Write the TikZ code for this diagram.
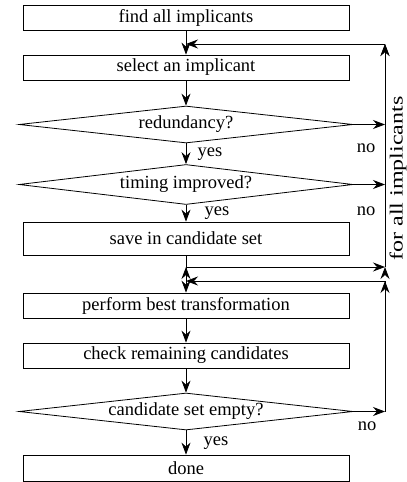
\documentclass[tikz,border=0pt]{standalone}
\usepackage{fontspec}
\setmainfont{Liberation Serif}
\usetikzlibrary{shapes.geometric,arrows.meta}

\begin{document}
\begin{tikzpicture}[x=1pt,y=-1pt,
    boxnode/.style={rectangle, draw=black, line width=0.8pt, minimum width=326pt, minimum height=25pt, inner sep=0pt, font=\fontsize{18.5}{22}\selectfont},
    asknode/.style={diamond, aspect=9, draw=black, line width=0.8pt, minimum width=334pt, minimum height=37pt, inner sep=0pt, font=\fontsize{18.5}{22}\selectfont},
    textnode/.style={inner sep=0pt, anchor=base, font=\fontsize{18.5}{22}\selectfont}]
            \useasboundingbox (0,0) rectangle (407,482);

            \node[boxnode] (find) at (186,17.5) {find all implicants};
            \node[boxnode] (sel) at (186,67.5) {select an implicant};
            \node[asknode] (red) at (186,124.5) {redundancy?};
            \node[asknode, minimum height=40pt] (tim) at (186,184.5) {timing improved?};
            \node[boxnode, minimum height=33pt] (save) at (186,238.5) {save in candidate set};
            \node[boxnode] (perf) at (186,305.5) {perform best transformation};
            \node[boxnode] (check) at (186,355.5) {check remaining candidates};
            \node[asknode] (cand) at (186,411.5) {candidate set empty?};
            \node[boxnode, minimum height=26pt] (done) at (186,468) {done};

            \node[textnode] (yes1) at (210,156) {yes};
            \node[textnode] (yes2) at (217,215.5) {yes};
            \node[textnode] (yes3) at (216,445) {yes};
            \node[textnode] (no1) at (366,152) {no};
            \node[textnode] (no2) at (366,215) {no};
            \node[textnode] (no3) at (367,430) {no};
            \node[inner sep=0pt, rotate=90, font=\fontsize{18.5}{22}\selectfont] (forall) at (398,178.5) {\scalebox{1.3}[1]{for all implicants}};

            \coordinate (jtop) at (186,44);
            \coordinate (jmid) at (186,267);
            \coordinate (jlow) at (186,281);
            \coordinate (rtop) at (385,44);
            \coordinate (rred) at (385,124.5);
            \coordinate (rtim) at (385,184.5);
            \coordinate (rmid) at (385,267);
            \coordinate (rlow) at (385,281);
            \coordinate (rbot) at (385,411.5);

            \tikzset{arr/.style={-{Stealth[length=12pt,width=9pt,inset=4pt]}, line width=0.8pt}}

            \draw[arr] (find) edge[] (sel);
            \draw[arr] (sel) edge[] (red);
            \draw[arr] (red) edge[] (tim);
            \draw[arr] (tim) edge[] (save);
            \draw[arr] (save) edge[] (perf);
            \draw[arr] (perf) edge[] (check);
            \draw[arr] (check) edge[] (cand);
            \draw[arr] (cand) edge[] (done);

            \draw[arr] (red) edge[] (rred);
            \draw[arr] (tim) edge[] (rtim);
            \draw[arr] (jmid) edge[] (rmid);
            \draw[arr] (rmid) edge[] (rtop);
            \draw[arr] (rtop) edge[] (jtop);

            \draw[arr] (cand) edge[] (rbot);
            \draw[line width=0.8pt] (rbot) -- (rlow);
            \draw[arr] (rlow) edge[] (jlow);

        \end{tikzpicture}
\end{document}
